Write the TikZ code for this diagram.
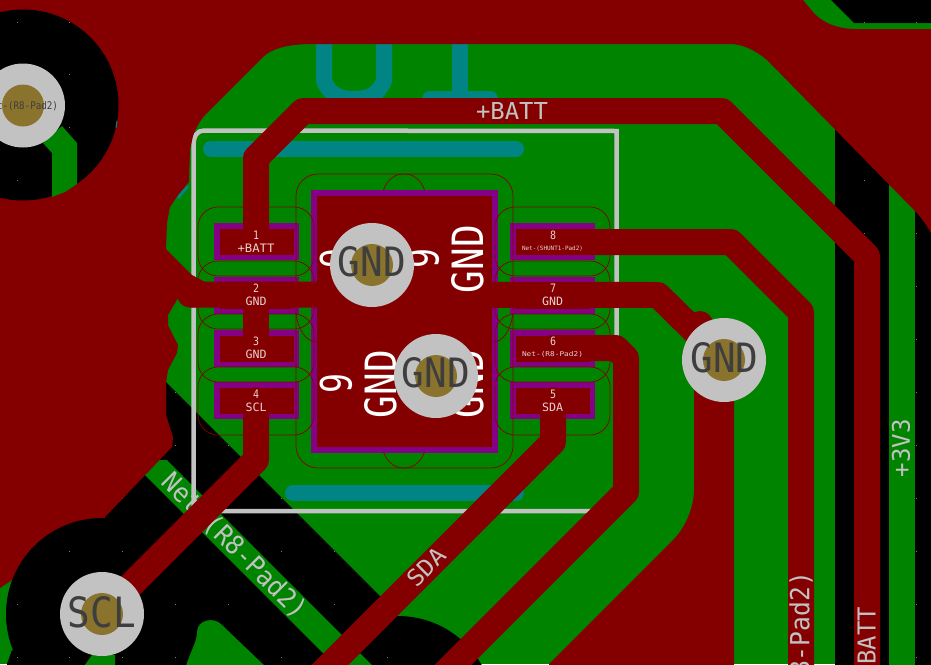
\documentclass[tikz,border=0pt]{standalone}
\usepackage{fontspec}
\usepackage{graphicx}
\setmainfont{DejaVu Sans Mono}
\definecolor{cu}{RGB}{132,0,0}
\definecolor{gn}{RGB}{0,132,0}
\definecolor{tl}{RGB}{0,132,132}
\definecolor{pu}{RGB}{132,0,132}
\definecolor{gy}{RGB}{194,194,194}
\definecolor{dotc}{RGB}{120,120,120}
\definecolor{au}{RGB}{138,115,44}
\definecolor{dk}{RGB}{62,62,62}
\definecolor{pk}{RGB}{232,208,208}
\newcommand{\lbl}[3]{\resizebox{#1pt}{#2pt}{#3}}
\newcommand{\griddots}{\foreach \i in {0,...,17}{\foreach \j in {0,...,12}{\fill[dotc] ({17+52.94*\i-0.5},{22+52.94*\j-0.5}) rectangle ++(1,1);}}}
\tikzset{
  trk/.style={draw=cu,line width=26pt,line join=round,line cap=round},
  slk/.style={draw=tl,line width=16pt,line cap=round,line join=round},
  ring/.style={draw=cu,line width=0.7pt},
  txt/.style={inner sep=0pt,outer sep=0pt},
  lab/.style={txt,text=gy},
  padlab/.style={txt,text=pk},
  viatx/.style={txt,text=dk},
  silk/.style={txt,text=white},
  padout/.style={fill=pu},
  padin/.style={fill=cu}
}
\begin{document}
\begin{tikzpicture}[x=1pt,y=-1pt]
\useasboundingbox (0,0) rectangle (931,664);
\clip (0,0) rectangle (931,664);
% copper base
\fill[gn] (0,0) rectangle (931,664);
% clearance
\fill[black] (150,366) -- (395,611) -- (400,670) -- (60,670) -- (60,500) -- cycle;
\fill[black] (398,712) circle[radius=96pt];
\fill[black] (835,125) -- (940,230) -- (940,670) -- (835,670) -- cycle;
\fill[black] (831,-5) -- (831,0) -- (854,23) -- (936,23) -- (936,-5) -- cycle;
\begin{scope}
\clip (150,366) -- (395,611) -- (400,670) -- (60,670) -- (60,500) -- cycle;
\griddots
\end{scope}
\begin{scope}
\clip (835,125) -- (940,230) -- (940,670) -- (835,670) -- cycle;
\griddots
\end{scope}
\begin{scope}
\clip (831,-5) -- (831,0) -- (854,23) -- (936,23) -- (936,-5) -- cycle;
\griddots
\end{scope}
% green strips over clearance
\fill[gn] (130,460) -- (167,460) -- (381,674) -- (344,674) -- cycle;
\fill[gn] (889,180) rectangle (915,670);
\node[lab,rotate=-45] (stripnet) at (234,546) {\lbl{193}{20}{Net-(R8-Pad2)}};
\node[lab,rotate=90] (v33) at (901,448) {\lbl{58}{18}{+3V3}};
% back silk
\draw[slk] (211,149) -- (516,149);
\draw[slk] (293,493) -- (516,493);
\draw[slk] (324,40) -- (324,81) .. controls (330,95) and (340,99) .. (354,99) .. controls (368,99) and (378,95) .. (384,81) -- (384,40);
\draw[slk] (460,40) -- (460,99);
\draw[slk] (430,99) -- (490,99);
\draw[draw=tl,line width=3pt] (178,198) -- (188,186);
% outline
\draw[gy,line width=4.5pt] (193.5,511) -- (193.5,146) .. controls (193.5,136) and (197,130.5) .. (204,130.5) -- (616.5,131) -- (616.5,511) -- cycle;
% red zones
\fill[cu] (-5,-5) -- (803,-5) -- (803,0) -- (813,12) .. controls (820,20) and (833,29) .. (857,29) -- (936,29) -- (936,240) -- (931,233) .. controls (926,224) and (920,216) .. (914,210) -- (767,60) .. controls (755,50) and (742,44) .. (730,44) -- (315,44) .. controls (295,44) and (275,46) .. (263,57) -- (207,113) .. controls (200,120) and (196,128) .. (193,136) -- (190,150) -- (189,182) -- (178,195) -- (170,207) -- (167,223) -- (166,249) -- (192,275) -- (205,282) -- (205,307) -- (190,307.5) -- (178,298) -- (168,315) -- (168,325) -- (178,345) -- (177,353) -- (168,370) -- (166,383) -- (166,415) -- (173,437) -- (172,447) -- (105,517) -- (105,600) -- (12,580) -- (0,588) -- (-5,588) -- cycle;
\fill[cu] (694,360) -- (694,490) .. controls (694,505) and (687,526) .. (673,540) -- (549,664) -- (549,669) -- (734,669) -- (734,360) -- cycle;
\fill[cu] (700,324) circle[radius=13pt];
% clearance circles in the pour
\fill[black] (23,105) circle[radius=95.5pt];
\fill[black] (102,614) circle[radius=96pt];
\fill[black] (12,650) -- (7,664) -- (7,670) -- (40,670) -- cycle;
\begin{scope}
\clip (23,105) circle[radius=95.5pt];
\griddots
\end{scope}
\begin{scope}
\clip (102,614) circle[radius=96pt];
\griddots
\end{scope}
\draw[draw=tl,line width=1pt] (117,121) -- (116,128);
% green stubs in clearance
\fill[gn] (62,126) -- (77,143) -- (77,184) -- (65,192) -- (52,197) -- (52,153) -- (43,143) -- cycle;
\fill[gn] (185,669) .. controls (190,652) and (197,642) .. (197,632) .. controls (197,620) and (214,616) .. (222,625) -- (268,669) -- cycle;
\fill[gn] (82,669) -- (92,655) -- (115,655) -- (115,669) -- cycle;
% pads
\foreach \y in {223,277,330,382}{
  \fill[padout] (214,\y) rectangle (299,\y+37);
  \fill[padin] (219.5,\y+6) rectangle (294,\y+31.5);
  \fill[padout] (510,\y) rectangle (595,\y+37);
  \fill[padin] (516,\y+6) rectangle (590,\y+31.5);
}
\fill[padout] (311,190) rectangle (498,453);
\fill[padin] (317,196) rectangle (492,447);
% pad rings
\foreach \a/\b in {207/276,261/329,314/382,367/435}{
  \draw[ring,rounded corners=20pt] (198,\a) rectangle (314,\b);
  \draw[ring,rounded corners=20pt] (495,\a) rectangle (610,\b);
}
\draw[ring,rounded corners=22pt] (296,174) rectangle (513,468);
\draw[ring] (383.5,190) .. controls (388,178) and (396,174) .. (404,174) .. controls (412,174) and (420,178) .. (424.5,190);
\draw[ring] (383.5,452) .. controls (388,464) and (396,468) .. (404,468) .. controls (412,468) and (420,464) .. (424.5,452);
\draw[ring] (296,313) .. controls (298,330) and (306,342) .. (317,342);
\draw[ring] (513,313) .. controls (511,330) and (503,342) .. (493,342);
% traces
\draw[trk] (256,240) -- (256,158) -- (303,111) -- (722,111) -- (867,256) -- (867,690);
\draw[trk] (552,242) -- (731,242) -- (801,312) -- (801,690);
\draw[trk] (190,294.5) -- (658,295) -- (724,360);
\draw[trk] (256,294) -- (256,345);
\draw[trk] (552,348) -- (616,348) -- (626,358) -- (626,492) -- (440,678);
\draw[trk] (553,400) -- (553,442) -- (305,690);
\draw[trk] (256,400) -- (256,460) -- (102,614);
% silk on the large pad
\node[silk,rotate=90] (n9a) at (336,258) {\lbl{20}{32}{9}};
\node[silk,rotate=90] (gnda) at (381,259) {\lbl{68}{32}{GND}};
\node[silk,rotate=90] (n9b) at (423,258) {\lbl{20}{32}{9}};
\node[silk,rotate=90] (gndb) at (468,259) {\lbl{68}{32}{GND}};
\node[silk,rotate=90] (n9c) at (336,383) {\lbl{20}{32}{9}};
\node[silk,rotate=90] (gndc) at (381,384) {\lbl{68}{32}{GND}};
\node[silk,rotate=90] (gndd) at (468,384) {\lbl{68}{32}{GND}};
% vias
\foreach \x/\y in {23/105.5,372/265,436/376,724/360,102/614}{
  \fill[gy] (\x,\y) circle[radius=42pt];
  \fill[au] (\x,\y) circle[radius=21pt];
}
\node[viatx] (v1) at (22,106) {\lbl{72}{8}{Net-(R8-Pad2)}};
\node[viatx] (v2) at (372,262) {\lbl{68}{30}{GND}};
\node[viatx] (v3) at (436,373) {\lbl{68}{30}{GND}};
\node[viatx] (v4) at (724.5,358) {\lbl{68}{30}{GND}};
\node[viatx] (v5) at (102,612) {\lbl{68}{31}{SCL}};
% pad labels
\node[padlab] (p1) at (256,235) {\lbl{6}{8.5}{1}};
\node[padlab] (p1b) at (256,248.5) {\lbl{37}{8.5}{+BATT}};
\node[padlab] (p2) at (256,288) {\lbl{6}{8.5}{2}};
\node[padlab] (p2b) at (256,301) {\lbl{21}{8.5}{GND}};
\node[padlab] (p3) at (256,341) {\lbl{6}{8.5}{3}};
\node[padlab] (p3b) at (256,354) {\lbl{21}{8.5}{GND}};
\node[padlab] (p4) at (256,394) {\lbl{6}{8.5}{4}};
\node[padlab] (p4b) at (256,407) {\lbl{21}{8.5}{SCL}};
\node[padlab] (p8) at (553,235) {\lbl{6}{8.5}{8}};
\node[padlab] (p8b) at (552.5,248.5) {\lbl{61}{4.5}{Net-(SHUNT1-Pad2)}};
\node[padlab] (p7) at (553,288) {\lbl{6}{8.5}{7}};
\node[padlab] (p7b) at (552.5,301) {\lbl{21}{8.5}{GND}};
\node[padlab] (p6) at (553,341) {\lbl{6}{8.5}{6}};
\node[padlab] (p6b) at (552.5,354) {\lbl{61}{5}{Net-(R8-Pad2)}};
\node[padlab] (p5) at (553,394) {\lbl{6}{8.5}{5}};
\node[padlab] (p5b) at (552.5,407) {\lbl{21}{8.5}{SDA}};
% track labels
\node[lab] (batt) at (512,110.5) {\lbl{72}{17}{+BATT}};
\node[lab,rotate=90] (batt2) at (866.5,643) {\lbl{72}{18}{+BATT}};
\node[lab,rotate=90] (net2) at (801,668.5) {\lbl{193}{20}{Net-(R8-Pad2)}};
\node[lab,rotate=45] (sda) at (426,567) {\lbl{44}{17}{SDA}};
\end{tikzpicture}
\end{document}
